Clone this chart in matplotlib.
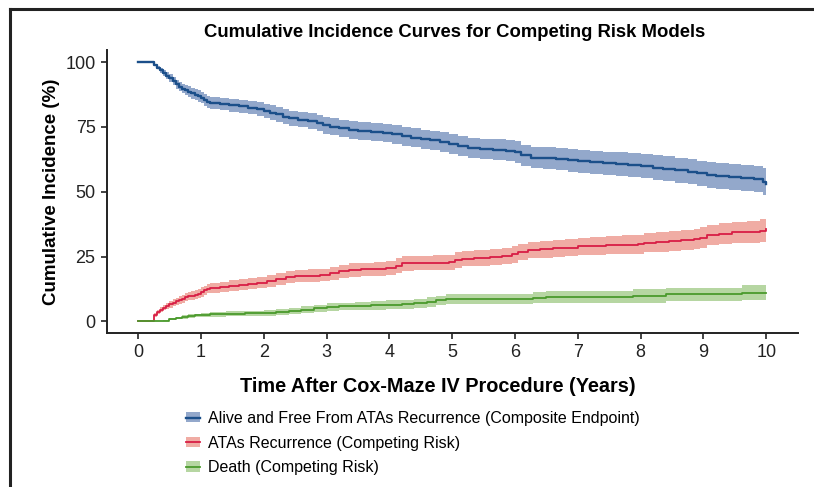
import matplotlib
matplotlib.use("Agg")
import numpy as np
import matplotlib.pyplot as plt
from matplotlib.patches import Patch
from matplotlib.lines import Line2D

plt.rcParams['font.family'] = ['Liberation Sans', 'DejaVu Sans']

# Step curves: time (years), estimate (%), CI half-width (%)
alive_t = [0, 0.25, 0.3, 0.35, 0.4, 0.45, 0.5, 0.55, 0.6, 0.65,
           0.7, 0.75, 0.8, 0.85, 0.9, 0.95, 1.0, 1.05, 1.1, 1.15,
           1.3, 1.45, 1.6, 1.75, 1.9, 2.0, 2.1, 2.2, 2.3, 2.4,
           2.55, 2.7, 2.85, 2.95, 3.05, 3.2, 3.35, 3.5, 3.7, 3.9,
           4.05, 4.2, 4.35, 4.5, 4.65, 4.8, 4.95, 5.1, 5.25, 5.45,
           5.65, 5.85, 6.0, 6.1, 6.25, 6.45, 6.65, 6.85, 7.0, 7.2,
           7.4, 7.6, 7.8, 8.0, 8.2, 8.35, 8.55, 8.75, 8.9, 9.05,
           9.2, 9.4, 9.6, 9.8, 9.95, 10.0]
alive_v = [100, 99.0, 97.8, 96.8, 95.8, 94.8, 93.8, 92.8, 91.5, 90.5,
           89.8, 89.2, 88.6, 88.0, 87.4, 86.9, 86.3, 85.5, 84.7, 84.2,
           83.8, 83.3, 82.9, 82.4, 81.8, 81.2, 80.5, 79.8, 79.0, 78.3,
           77.8, 77.3, 76.5, 75.6, 75.0, 74.4, 73.8, 73.4, 73.1, 72.8,
           72.2, 71.4, 70.8, 70.3, 69.8, 69.2, 68.5, 67.6, 66.9, 66.5,
           66.2, 65.8, 65.2, 64.0, 63.2, 62.9, 62.6, 62.2, 61.8, 61.4,
           61.0, 60.7, 60.4, 60.0, 59.3, 58.8, 58.3, 57.8, 57.1, 56.5,
           55.9, 55.6, 55.3, 54.9, 53.8, 53.0]
alive_ci = [0, 0.2, 0.6, 0.9, 1.1, 1.3, 1.5, 1.6, 1.7, 1.8,
            1.9, 2.0, 2.0, 2.1, 2.1, 2.2, 2.2, 2.3, 2.3, 2.3,
            2.4, 2.5, 2.5, 2.6, 2.7, 2.8, 2.8, 2.9, 2.9, 3.0,
            3.0, 3.1, 3.2, 3.2, 3.3, 3.3, 3.4, 3.4, 3.5, 3.5,
            3.6, 3.6, 3.7, 3.7, 3.8, 3.8, 3.9, 3.9, 4.0, 4.0,
            4.1, 4.1, 4.2, 4.2, 4.2, 4.3, 4.3, 4.4, 4.4, 4.4,
            4.5, 4.5, 4.6, 4.7, 4.7, 4.8, 4.8, 4.8, 4.9, 4.9,
            5.0, 5.0, 5.1, 5.1, 5.2, 5.2]

ata_t = [0, 0.25, 0.3, 0.35, 0.4, 0.45, 0.5, 0.55, 0.6, 0.65,
         0.7, 0.75, 0.8, 0.85, 0.9, 0.95, 1.0, 1.05, 1.1, 1.15,
         1.3, 1.45, 1.6, 1.75, 1.9, 2.05, 2.2, 2.35, 2.5, 2.7,
         2.9, 3.05, 3.2, 3.35, 3.55, 3.75, 3.95, 4.1, 4.2, 4.4,
         4.7, 4.95, 5.05, 5.15, 5.35, 5.6, 5.8, 5.95, 6.05, 6.2,
         6.4, 6.6, 6.8, 7.0, 7.2, 7.45, 7.7, 7.95, 8.05, 8.25,
         8.45, 8.65, 8.85, 8.95, 9.05, 9.25, 9.45, 9.7, 9.9, 10.0]
ata_v = [0, 2.5, 3.6, 4.5, 5.3, 6.0, 6.6, 7.2, 7.7, 8.2,
         8.8, 9.3, 9.7, 10.0, 10.3, 10.7, 11.3, 12.0, 12.6, 13.0,
         13.4, 13.8, 14.2, 14.6, 15.0, 15.6, 16.3, 17.0, 17.4, 17.7,
         18.0, 18.6, 19.3, 19.8, 20.1, 20.3, 20.6, 21.5, 22.4, 22.6,
         22.6, 22.8, 23.6, 24.2, 24.6, 25.0, 25.4, 25.9, 26.8, 27.5,
         27.8, 28.2, 28.5, 28.9, 29.2, 29.4, 29.6, 29.8, 30.3, 30.7,
         31.0, 31.3, 31.7, 32.3, 33.3, 33.8, 34.3, 34.5, 35.0, 35.7]
ata_ci = [0, 0.6, 0.8, 0.9, 1.0, 1.2, 1.3, 1.4, 1.4, 1.5,
          1.5, 1.6, 1.6, 1.7, 1.7, 1.7, 1.8, 1.8, 1.8, 1.9,
          1.9, 2.0, 2.0, 2.1, 2.1, 2.2, 2.2, 2.3, 2.3, 2.4,
          2.4, 2.5, 2.5, 2.6, 2.6, 2.7, 2.7, 2.8, 2.8, 2.8,
          2.9, 3.0, 3.0, 3.0, 3.1, 3.1, 3.1, 3.2, 3.2, 3.2,
          3.3, 3.3, 3.4, 3.4, 3.5, 3.5, 3.6, 3.7, 3.7, 3.8,
          3.8, 3.9, 3.9, 4.0, 4.0, 4.1, 4.2, 4.3, 4.4, 5.0]

death_t = [0, 0.4, 0.5, 0.6, 0.7, 0.8, 0.9, 1.0, 1.15, 1.4,
           1.7, 2.0, 2.2, 2.4, 2.6, 2.8, 3.0, 3.2, 3.45, 3.7,
           3.95, 4.2, 4.4, 4.6, 4.75, 4.9, 5.1, 6.28, 6.5, 7.88,
           8.4, 9.62, 10.0]
death_v = [0, 0.3, 0.8, 1.3, 1.7, 2.0, 2.3, 2.5, 2.8, 3.0,
           3.1, 3.3, 3.6, 4.0, 4.5, 5.0, 5.5, 5.8, 6.0, 6.2,
           6.4, 6.6, 7.0, 7.6, 8.1, 8.6, 8.7, 9.2, 9.5, 9.9,
           10.4, 11.0, 11.0]
death_ci = [0, 0.3, 0.4, 0.5, 0.6, 0.7, 0.7, 0.8, 0.9, 1.0,
            1.1, 1.2, 1.2, 1.3, 1.4, 1.4, 1.5, 1.5, 1.6, 1.7,
            1.7, 1.8, 1.8, 1.9, 1.9, 2.0, 2.0, 2.2, 2.3, 2.6,
            2.6, 2.9, 3.0]

labels = ["Alive and Free From ATAs Recurrence (Composite Endpoint)",
          "ATAs Recurrence (Competing Risk)",
          "Death (Competing Risk)"]
line_colors = ["#1b4f8a", "#d81e45", "#4a9a2c"]
band_colors = ["#93a8cb", "#f0aca4", "#b6d6a2"]

fig = plt.figure(figsize=(8.14, 4.87), dpi=100)
ax = fig.add_axes([0.131, 0.316, 0.849, 0.581])

series = [(alive_t, alive_v, alive_ci, 1.7),
          (ata_t, ata_v, ata_ci, 1.3),
          (death_t, death_v, death_ci, 1.3)]
handles = []
for (t, v, ci, lw), lc, bc in zip(series, line_colors, band_colors):
    v = np.array(v)
    ci = np.array(ci)
    ax.fill_between(t, v - ci, v + ci, step='post', color=bc, lw=0)
    ax.step(t, v, where='post', color=lc, lw=lw)
    handles.append((Patch(facecolor=bc, edgecolor='none'),
                    Line2D([], [], color=lc, lw=lw)))

ax.set_xlim(-0.5, 10.5)
ax.set_ylim(-4.5, 104.6)
ax.set_xticks(range(0, 11))
ax.set_yticks([0, 25, 50, 75, 100])
for s in ['top', 'right']:
    ax.spines[s].set_visible(False)
for s in ['left', 'bottom']:
    ax.spines[s].set_linewidth(1.4)
    ax.spines[s].set_color('#222222')
ax.tick_params(direction='out', length=4, width=1.2, color='#222222',
               labelsize=13, labelcolor='#222222', pad=4)

ax.set_xlabel("Time After Cox-Maze IV Procedure (Years)", fontsize=14.3,
              fontweight='bold', labelpad=9)
ax.xaxis.set_label_coords(0.479, -0.155)
ax.set_ylabel("Cumulative Incidence (%)", fontsize=13.5, fontweight='bold',
              labelpad=4)
fig.text(0.559, 0.934, "Cumulative Incidence Curves for Competing Risk Models",
         ha='center', va='center', fontsize=13.3, fontweight='bold')

fig.legend(handles, labels, loc='upper left', bbox_to_anchor=(0.228, 0.156),
           frameon=False, fontsize=11.5, handlelength=0.9, handleheight=0.6,
           handletextpad=0.5, labelspacing=0.6, borderpad=0, borderaxespad=0)

# outer frame
fig.add_artist(Line2D([10 / 814, 10 / 814], [0, 1 - 9 / 487],
                      transform=fig.transFigure, color='#222222', lw=2.2))
fig.add_artist(Line2D([10 / 814, 1], [1 - 9 / 487, 1 - 9 / 487],
                      transform=fig.transFigure, color='#222222', lw=2.2))

fig.savefig("out.png", dpi=100)
